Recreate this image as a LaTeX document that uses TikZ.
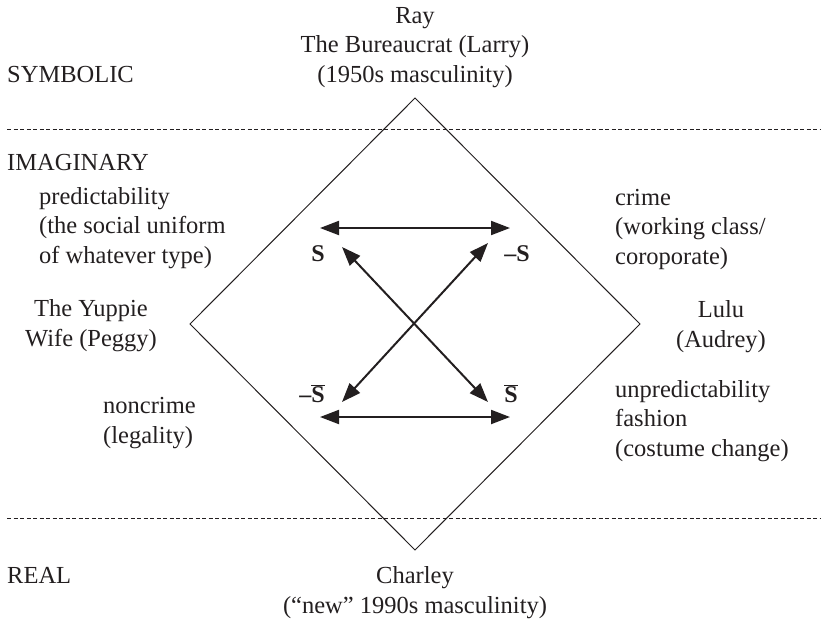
\documentclass[tikz,border=0pt]{standalone}
\usepackage{fontspec}
\setmainfont{Liberation Serif}
\usetikzlibrary{arrows.meta}
\definecolor{ink}{HTML}{231F20}
\begin{document}
\begin{tikzpicture}[x=1pt,y=-1pt,
  lbl/.style={inner sep=0pt, text=ink, font=\fontsize{24.5}{29.5}\selectfont},
  sym/.style={inner sep=0pt, text=ink, font=\bfseries\fontsize{24}{28}\selectfont},
  levelline/.style={draw=ink, line width=0.8pt, dash pattern=on 4pt off 2.5pt},
  square/.style={draw=ink, line width=1pt, line join=miter},
  dbl/.style={draw=ink, line width=2pt,
    {Triangle[length=19pt,width=14pt]}-{Triangle[length=19pt,width=14pt]}}]
\useasboundingbox (0,0) rectangle (821,621);

% level boundaries
\coordinate (d1l) at (7,129.5);  \coordinate (d1r) at (821,129.5);
\coordinate (d2l) at (7,518);    \coordinate (d2r) at (821,518);
\draw[levelline] (d1l) -- (d1r);
\draw[levelline] (d2l) -- (d2r);

% the semiotic square
\coordinate (top) at (415,98);
\coordinate (rgt) at (640,324);
\coordinate (bot) at (415,550);
\coordinate (lft) at (190,324);
\draw[square] (top) -- (rgt) -- (bot) -- (lft) -- cycle;

% level names
\node[lbl, anchor=base west] (symb) at (7,82) {SYMBOLIC};
\node[lbl, anchor=base west] (imag) at (7,170) {IMAGINARY};
\node[lbl, anchor=base west] (real) at (7,583) {REAL};

% corner characters (anchored at the baseline of the last line)
\node[lbl, anchor=base, align=center] (ray) at (415,82)
  {Ray\\The Bureaucrat (Larry)\\(1950s masculinity)};
\node[lbl, anchor=base, align=center] (yuppie) at (91,346)
  {The Yuppie\\Wife (Peggy)};
\node[lbl, anchor=base, align=center] (lulu) at (721,347)
  {Lulu\\(Audrey)};
\node[lbl, anchor=base, align=center] (charley) at (415,613)
  {Charley\\(“new” 1990s masculinity)};

% side terms
\node[lbl, anchor=base west, align=left] (pred) at (39,263)
  {predictability\\(the social uniform\\of whatever type)};
\node[lbl, anchor=base west, align=left] (crime) at (615,264)
  {crime\\(working class/\\coroporate)};
\node[lbl, anchor=base west, align=left] (noncrime) at (103,443)
  {noncrime\\(legality)};
\node[lbl, anchor=base west, align=left] (unpred) at (615,456)
  {unpredictability\\fashion\\(costume change)};

% square terms
\node[sym, anchor=base] (s) at (318,261) {S};
\node[sym, anchor=base] (ns) at (517,261) {--S};
\node[sym, anchor=base] (nsb) at (312,402) {--$\overline{\mbox{S}}$};
\node[sym, anchor=base] (sb) at (511,402) {$\overline{\mbox{S}}$};

% relations
\coordinate (ta) at (320,228);  \coordinate (tb) at (510,228);
\coordinate (ba) at (320,417);  \coordinate (bb) at (510,417);
\coordinate (da) at (342,247);  \coordinate (db) at (488,402);
\coordinate (ea) at (488,243);  \coordinate (eb) at (342,402);
\draw[dbl] (ta) -- (tb);
\draw[dbl] (ba) -- (bb);
\draw[dbl] (da) -- (db);
\draw[dbl] (ea) -- (eb);
\end{tikzpicture}
\end{document}
